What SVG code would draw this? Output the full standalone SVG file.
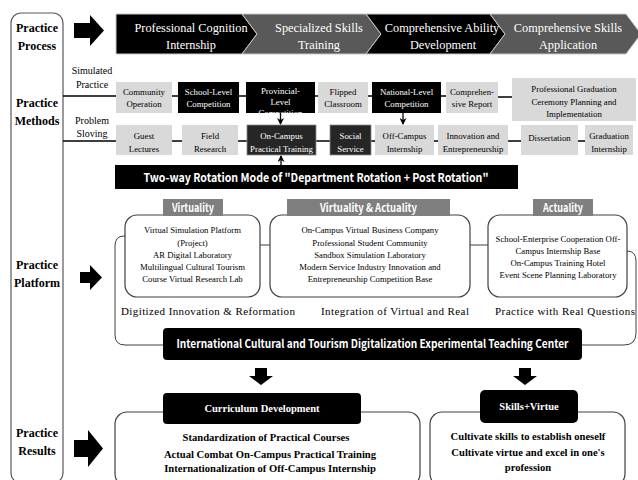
<svg xmlns="http://www.w3.org/2000/svg" width="638" height="480" viewBox="0 0 638 480">
<style>
.sf{font-family:'Liberation Serif','Times New Roman',serif}
.ss{font-family:'Noto Sans CJK KR','Noto Sans','Liberation Sans',sans-serif;font-weight:700}
.lab{font-size:12px;font-weight:700;fill:#000;text-anchor:middle}
.chev{font-size:12.3px;fill:#fff;text-anchor:middle}
.bt{font-size:8.8px;text-anchor:middle;fill:#000}
.bw{font-size:8.8px;text-anchor:middle;fill:#fff}
.lt{fill:#d9d9d9}
.bk{fill:#000}
.dk{fill:#262626;stroke:#8c8c8c;stroke-width:0.8}
.pt{font-size:8.7px;text-anchor:middle;fill:#000}
.cap{font-size:11px;text-anchor:start;fill:#000}
.gl{fill:#7f7f7f}
.gt{font-size:11px;fill:#fff;text-anchor:middle}
.rb{fill:none;stroke:#404040;stroke-width:1.2}
.rt{font-size:10.6px;font-weight:700;text-anchor:middle;fill:#000}
.ln{stroke:#000;stroke-width:1.5;fill:none}
.thin{stroke:#404040;stroke-width:1;fill:none}
</style>
<defs>
<marker id="ah" markerWidth="7" markerHeight="7" refX="6" refY="3.5" orient="auto" markerUnits="userSpaceOnUse">
<path d="M0,0 L7,3.5 L0,7 L2,3.5 Z" fill="#000"/>
</marker>
<clipPath id="provclip"><rect x="246" y="82" width="69" height="31"/></clipPath>
</defs>

<g id="left-column">
<rect x="11" y="13" width="52" height="470" rx="10" fill="none" stroke="#595959" stroke-width="1.2"/>
<text class="sf lab" x="37" y="32">Practice</text>
<text class="sf lab" x="37" y="50">Process</text>
<text class="sf lab" x="37" y="107">Practice</text>
<text class="sf lab" x="37" y="125">Methods</text>
<text class="sf lab" x="37" y="269">Practice</text>
<text class="sf lab" x="37" y="287">Platform</text>
<text class="sf lab" x="37" y="437">Practice</text>
<text class="sf lab" x="37" y="455">Results</text>
</g>

<g id="section-arrows">
<path d="M74,23 H90 V15 L104,30.5 L90,46 V38 H74 Z" fill="#000"/>
<path d="M80,272 H90 V265 L102,277.5 L90,290 V283 H80 Z" fill="#000"/>
<path d="M74,440 H88 V430 L103,448.5 L88,467 V457 H74 Z" fill="#000"/>
</g>

<g id="process">
<g id="chev1"><polygon points="116,14 242,14 257,34 242,54 116,54" fill="#000" stroke="#c8c8c8" stroke-width="1"/>
<text class="sf chev" x="191" y="32">Professional Cognition</text><text class="sf chev" x="191" y="49">Internship</text></g>
<g id="chev2"><polygon points="242,14 366,14 381,34 366,54 242,54 257,34" fill="#595959" stroke="#c8c8c8" stroke-width="1"/>
<text class="sf chev" x="319" y="32">Specialized Skills</text><text class="sf chev" x="319" y="49">Training</text></g>
<g id="chev3"><polygon points="366,14 490,14 505,34 490,54 366,54 381,34" fill="#000" stroke="#c8c8c8" stroke-width="1"/>
<text class="sf chev" x="442" y="32">Comprehensive Ability</text><text class="sf chev" x="443" y="49">Development</text></g>
<g id="chev4"><polygon points="490,14 626,14 641,34 626,54 490,54 505,34" fill="#595959" stroke="#c8c8c8" stroke-width="1"/>
<text class="sf chev" x="568" y="32">Comprehensive Skills</text><text class="sf chev" x="568" y="49">Application</text></g>
</g>

<g id="method-labels">
<text class="sf" font-size="10" x="92" y="74" text-anchor="middle">Simulated</text>
<text class="sf" font-size="10" x="92" y="88" text-anchor="middle">Practice</text>
<text class="sf" font-size="10" x="92" y="124" text-anchor="middle">Problem</text>
<text class="sf" font-size="10" x="92" y="137" text-anchor="middle">Sloving</text>
</g>

<g id="connectors">
<path class="ln" d="M63,96 H116 M172,96 H178 M239,96 H246 M315,96 H318 M368,96 H372 M441,96 H446 M498,97 H512"/>
<path class="ln" d="M63,141 H116 M172,141 H182 M238,141 H247 M316,141 H330 M371,141 H375 M434,141 H438 M508,141 H521 M578,141 H585"/>
<line x1="280.5" y1="113" x2="280.5" y2="124" stroke="#000" stroke-width="1.3" marker-end="url(#ah)"/>
<line x1="403" y1="113" x2="403" y2="124" stroke="#000" stroke-width="1.3" marker-end="url(#ah)"/>
<line x1="281" y1="165" x2="281" y2="156" stroke="#000" stroke-width="1.3" marker-end="url(#ah)"/>
<path class="thin" d="M260,245 H270 M470,245 H488"/>
<path class="thin" d="M125,236 H124 Q115,236 115,246 V335 Q115,345 125,345 H163"/>
<path class="thin" d="M627,251 Q636,251 636,261 V333 Q636,345 624,345 H582"/>
<path d="M255,368 H267 V376 H273 L261,385 L249,376 H255 Z" fill="#000"/>
<path d="M519,368 H531 V376 H537 L525,385 L513,376 H519 Z" fill="#000"/>
</g>

<g id="row1">
<g id="community-operation"><rect class="lt" x="116" y="82" width="56" height="31"/><text class="sf bt" x="144" y="95">Community</text><text class="sf bt" x="144" y="107">Operation</text></g>
<g id="school-level"><rect class="bk" x="178" y="82" width="61" height="31"/><text class="sf bw" x="208.5" y="95">School-Level</text><text class="sf bw" x="208.5" y="107">Competition</text></g>
<g id="provincial-level"><rect class="bk" x="246" y="82" width="69" height="31"/><g clip-path="url(#provclip)"><text class="sf bw" x="280.5" y="94">Provincial-</text><text class="sf bw" x="280.5" y="105">Level</text><text class="sf bw" x="280.5" y="116">Competition</text></g></g>
<g id="flipped-classroom"><rect class="lt" x="318" y="82" width="50" height="31"/><text class="sf bt" x="343" y="95">Flipped</text><text class="sf bt" x="343" y="107">Classroom</text></g>
<g id="national-level"><rect class="bk" x="372" y="82" width="69" height="31"/><text class="sf bw" x="406.5" y="95">National-Level</text><text class="sf bw" x="406.5" y="107">Competition</text></g>
<g id="comprehensive-report"><rect class="lt" x="446" y="82" width="52" height="31"/><text class="sf bt" x="472" y="95">Comprehen-</text><text class="sf bt" x="472" y="107">sive Report</text></g>
<g id="graduation-ceremony"><rect class="lt" x="512" y="78" width="124" height="43"/><text class="sf bt" x="574" y="92">Professional Graduation</text><text class="sf bt" x="574" y="105">Ceremony Planning and</text><text class="sf bt" x="574" y="117">Implementation</text></g>
</g>

<g id="row2">
<g id="guest-lectures"><rect class="lt" x="116" y="125" width="56" height="30"/><text class="sf bt" x="144" y="139">Guest</text><text class="sf bt" x="144" y="152">Lectures</text></g>
<g id="field-research"><rect class="lt" x="182" y="125" width="56" height="30"/><text class="sf bt" x="210" y="139">Field</text><text class="sf bt" x="210" y="152">Research</text></g>
<g id="on-campus-training"><rect class="dk" x="247" y="125" width="69" height="30"/><text class="sf bw" x="281.5" y="139">On-Campus</text><text class="sf bw" x="281.5" y="152">Practical Training</text></g>
<g id="social-service"><rect class="dk" x="330" y="125" width="41" height="30"/><text class="sf bw" x="350.5" y="139">Social</text><text class="sf bw" x="350.5" y="152">Service</text></g>
<g id="off-campus-internship"><rect class="lt" x="375" y="125" width="59" height="30"/><text class="sf bt" x="404.5" y="139">Off-Campus</text><text class="sf bt" x="404.5" y="152">Internship</text></g>
<g id="innovation"><rect class="lt" x="438" y="125" width="70" height="30"/><text class="sf bt" x="473" y="139">Innovation and</text><text class="sf bt" x="473" y="152">Entrepreneurship</text></g>
<g id="dissertation"><rect class="lt" x="521" y="125" width="57" height="30"/><text class="sf bt" x="549.5" y="141">Dissertation</text></g>
<g id="graduation-internship"><rect class="lt" x="585" y="125" width="48" height="30"/><text class="sf bt" x="609" y="139">Graduation</text><text class="sf bt" x="609" y="152">Internship</text></g>
</g>

<g id="rotation-mode">
<rect x="115" y="165" width="403" height="24" fill="#000"/>
<text class="ss" font-size="12" fill="#fff" x="316" y="181.5" text-anchor="middle" textLength="345" lengthAdjust="spacingAndGlyphs">Two-way Rotation Mode of "Department Rotation + Post Rotation"</text>
</g>

<g id="platform-virtuality">
<rect class="rb" x="125" y="215" width="135" height="82" rx="12"/>
<rect class="gl" x="163" y="199" width="60" height="17"/>
<text class="ss gt" x="193" y="211.5" textLength="42" lengthAdjust="spacingAndGlyphs">Virtuality</text>
<text class="sf pt" x="192.5" y="233">Virtual Simulation Platform</text>
<text class="sf pt" x="192.5" y="245.5">(Project)</text>
<text class="sf pt" x="192.5" y="258">AR Digital Laboratory</text>
<text class="sf pt" x="192.5" y="270">Multilingual Cultural Tourism</text>
<text class="sf pt" x="192.5" y="282">Course Virtual Research Lab</text>
<text class="sf cap" x="121" y="315" textLength="174" lengthAdjust="spacing">Digitized Innovation &amp; Reformation</text>
</g>

<g id="platform-virtuality-actuality">
<rect class="rb" x="270" y="215" width="200" height="82" rx="12"/>
<rect class="gl" x="287" y="199" width="163" height="17"/>
<text class="ss gt" x="368.5" y="211.5" textLength="97" lengthAdjust="spacingAndGlyphs">Virtuality &amp; Actuality</text>
<text class="sf pt" x="370" y="233">On-Campus Virtual Business Company</text>
<text class="sf pt" x="370" y="245.5">Professional Student Community</text>
<text class="sf pt" x="370" y="258">Sandbox Simulation Laboratory</text>
<text class="sf pt" x="370" y="270">Modern Service Industry Innovation and</text>
<text class="sf pt" x="370" y="282">Entrepreneurship Competition Base</text>
<text class="sf cap" x="321" y="315" textLength="148" lengthAdjust="spacing">Integration of Virtual and Real</text>
</g>

<g id="platform-actuality">
<rect class="rb" x="488" y="215" width="139" height="82" rx="12"/>
<rect class="gl" x="533" y="199" width="60" height="17"/>
<text class="ss gt" x="563" y="211.5" textLength="40" lengthAdjust="spacingAndGlyphs">Actuality</text>
<text class="sf pt" x="558" y="242">School-Enterprise Cooperation Off-</text>
<text class="sf pt" x="558" y="254">Campus Internship Base</text>
<text class="sf pt" x="558" y="266">On-Campus Training Hotel</text>
<text class="sf pt" x="558" y="278">Event Scene Planning Laboratory</text>
<text class="sf cap" x="495" y="315" textLength="140" lengthAdjust="spacing">Practice with Real Questions</text>
</g>

<g id="teaching-center">
<rect x="163" y="328" width="419" height="32" rx="4" fill="#000"/>
<text class="ss" font-size="11.5" fill="#fff" x="372.5" y="348" text-anchor="middle" textLength="392" lengthAdjust="spacingAndGlyphs">International Cultural and Tourism Digitalization Experimental Teaching Center</text>
</g>

<g id="curriculum-development">
<rect class="rb" x="115" y="412" width="305" height="74" rx="12"/>
<rect x="163" y="393" width="198" height="31" rx="4" fill="#000"/>
<text class="sf" font-size="10.5" font-weight="700" fill="#fff" x="262" y="412" text-anchor="middle">Curriculum Development</text>
<text class="sf rt" x="266" y="441">Standardization of Practical Courses</text>
<text class="sf rt" x="270" y="458">Actual Combat On-Campus Practical Training</text>
<text class="sf rt" x="270" y="472">Internationalization of Off-Campus Internship</text>
</g>

<g id="skills-virtue">
<rect class="rb" x="430" y="412" width="195" height="74" rx="12"/>
<rect x="480" y="390" width="98" height="33" rx="5" fill="#000"/>
<text class="sf" font-size="10.5" font-weight="700" fill="#fff" x="529" y="410" text-anchor="middle">Skills+Virtue</text>
<text class="sf rt" x="528" y="440">Cultivate skills to establish oneself</text>
<text class="sf rt" x="528" y="456">Cultivate virtue and excel in one's</text>
<text class="sf rt" x="528" y="471">profession</text>
</g>
</svg>
